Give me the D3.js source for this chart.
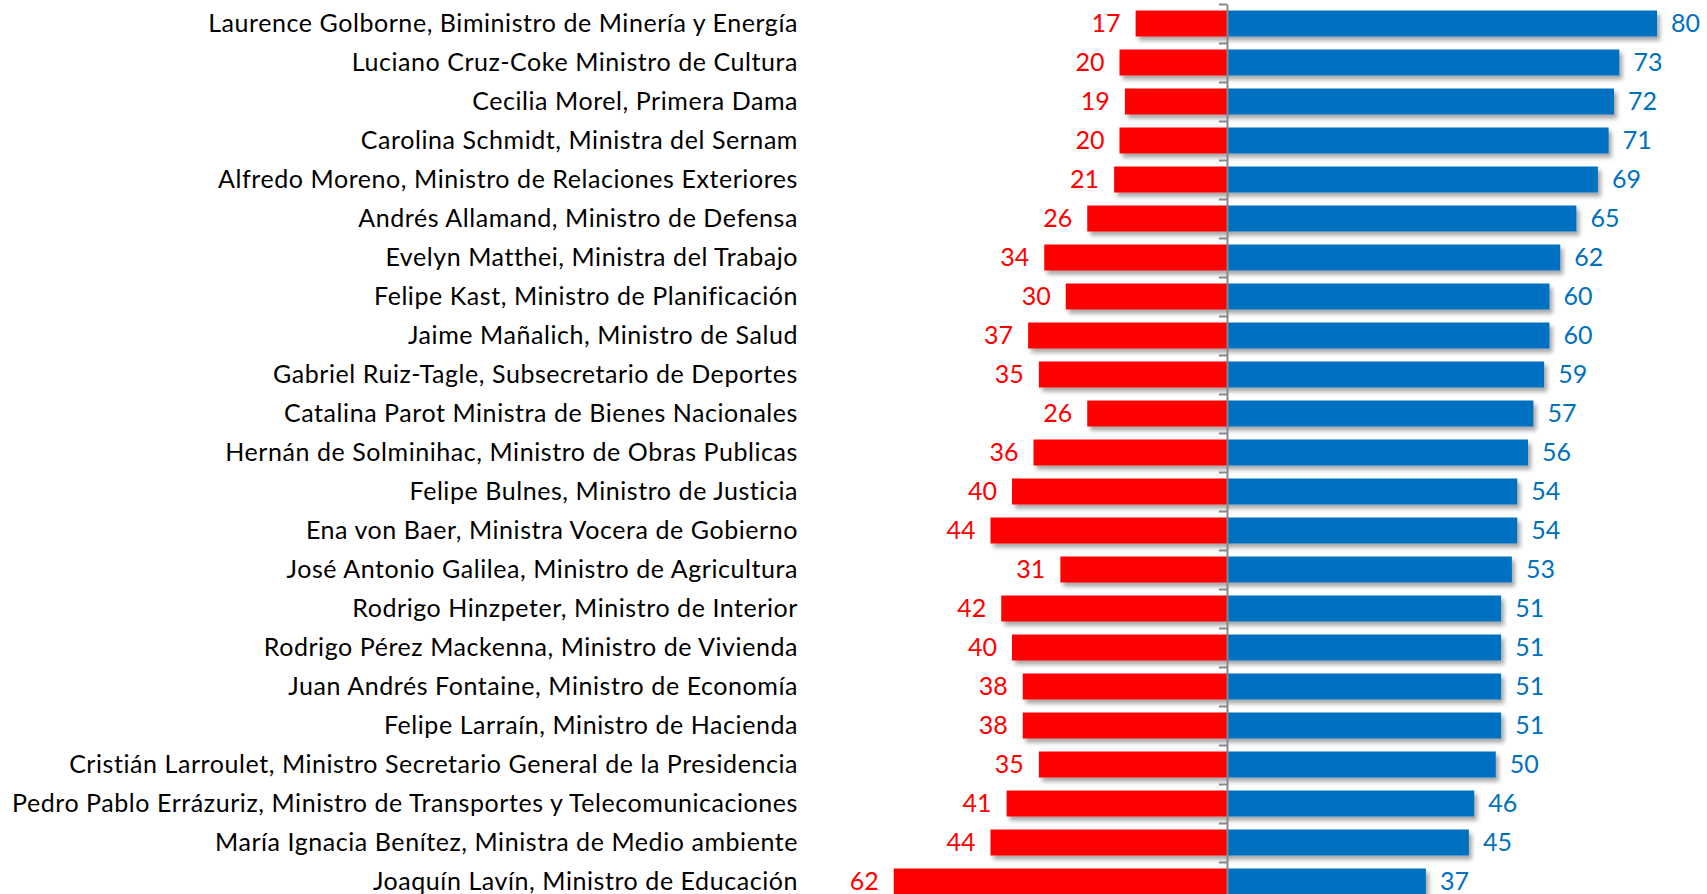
<!DOCTYPE html>
<html>
<head>
<meta charset="utf-8">
<script src="https://cdn.jsdelivr.net/npm/d3@7"></script>
<style>
  body { margin: 0; background: #fff; }
  svg text { font-family: Lato, "Open Sans", sans-serif; }
</style>
</head>
<body>
<div id="chart"></div>
<script>
var names = [
  "Laurence Golborne, Biministro de Minería y Energía",
  "Luciano Cruz-Coke Ministro de Cultura",
  "Cecilia Morel, Primera Dama",
  "Carolina Schmidt, Ministra del Sernam",
  "Alfredo Moreno, Ministro de Relaciones Exteriores",
  "Andrés Allamand, Ministro de Defensa",
  "Evelyn Matthei, Ministra del Trabajo",
  "Felipe Kast, Ministro de Planificación",
  "Jaime Mañalich, Ministro de Salud",
  "Gabriel Ruiz-Tagle, Subsecretario de Deportes",
  "Catalina Parot Ministra de Bienes Nacionales",
  "Hernán de Solminihac, Ministro de Obras Publicas",
  "Felipe Bulnes, Ministro de Justicia",
  "Ena von Baer, Ministra Vocera de Gobierno",
  "José Antonio Galilea, Ministro de Agricultura",
  "Rodrigo Hinzpeter, Ministro de Interior",
  "Rodrigo Pérez Mackenna, Ministro de Vivienda",
  "Juan Andrés Fontaine, Ministro de Economía",
  "Felipe Larraín, Ministro de Hacienda",
  "Cristián Larroulet, Ministro Secretario General de la Presidencia",
  "Pedro Pablo Errázuriz, Ministro de Transportes y Telecomunicaciones",
  "María Ignacia Benítez, Ministra de Medio ambiente",
  "Joaquín Lavín, Ministro de Educación"
];
var negativos = [17, 20, 19, 20, 21, 26, 34, 30, 37, 35, 26, 36, 40, 44, 31, 42, 40, 38, 38, 35, 41, 44, 62];
var positivos = [80, 73, 72, 71, 69, 65, 62, 60, 60, 59, 57, 56, 54, 54, 53, 51, 51, 51, 51, 50, 46, 45, 37];

var width = 1707, height = 894;
var labelRight = 798;

var svg = d3.select("#chart")
    .append("svg")
    .attr("width", width)
    .attr("height", height);

// drop shadow like the office chart
var defs = svg.append("defs");
var f = defs.append("filter").attr("id", "shadow")
    .attr("x", "-10%").attr("y", "-30%").attr("width", "120%").attr("height", "170%");
f.append("feDropShadow")
    .attr("dx", 3).attr("dy", 4)
    .attr("stdDeviation", 2)
    .attr("flood-color", "#000")
    .attr("flood-opacity", 0.35);

var x = d3.scaleLinear()
    .domain([-80, 80])
    .range([797, 1657]);

var y = d3.scaleBand()
    .domain(names)
    .range([4, 4 + 39 * names.length])
    .paddingInner(1 / 3)
    .paddingOuter(1 / 6);

var data = names.map(function(n, i) {
    return {name: n, neg: negativos[i], pos: positivos[i]};
});

// bars
var bars = svg.append("g").attr("filter", "url(#shadow)");
bars.selectAll(".neg")
    .data(data)
    .enter()
    .append("rect")
    .attr("class", "neg")
    .attr("x", function(d) { return x(-d.neg); })
    .attr("y", function(d) { return y(d.name); })
    .attr("width", function(d) { return x(0) - x(-d.neg); })
    .attr("height", y.bandwidth())
    .style("fill", "#FF0000");

bars.selectAll(".pos")
    .data(data)
    .enter()
    .append("rect")
    .attr("class", "pos")
    .attr("x", x(0))
    .attr("y", function(d) { return y(d.name); })
    .attr("width", function(d) { return x(d.pos) - x(0); })
    .attr("height", y.bandwidth())
    .style("fill", "#0070C0");

// axis at zero with ticks between categories
var yi = d3.scaleLinear().domain([0, names.length]).range(y.range());
var axis = svg.append("g")
    .attr("transform", "translate(" + x(0) + ",0)")
    .call(d3.axisLeft(yi).ticks(names.length).tickFormat("").tickSize(8).tickSizeOuter(0));
axis.selectAll("path, line").attr("stroke", "#888").attr("stroke-width", 2);

// category labels
var labels = svg.append("g").selectAll("text")
    .data(data)
    .enter()
    .append("text")
    .attr("x", labelRight)
    .attr("y", function(d) { return y(d.name) + y.bandwidth() / 2; })
    .attr("dy", "0.35em")
    .attr("text-anchor", "end")
    .style("font-size", "25px")
    .style("fill", "#000")
    .text(function(d) { return d.name; });

// widen a little so the longest label spans like the original (Calibri)
var longest = labels.nodes().reduce(function(a, b) {
    return a.getComputedTextLength() > b.getComputedTextLength() ? a : b;
});
var extra = (786 - longest.getComputedTextLength()) / longest.textContent.length;
if (extra > 0) labels.style("letter-spacing", Math.min(extra, 1) + "px");

// value labels
svg.append("g").selectAll("text")
    .data(data)
    .enter()
    .append("text")
    .attr("x", function(d) { return x(-d.neg) - 15; })
    .attr("y", function(d) { return y(d.name) + y.bandwidth() / 2; })
    .attr("dy", "0.35em")
    .attr("text-anchor", "end")
    .style("font-size", "25px")
    .style("fill", "#FF0000")
    .text(function(d) { return d.neg; });

svg.append("g").selectAll("text")
    .data(data)
    .enter()
    .append("text")
    .attr("x", function(d) { return x(d.pos) + 14; })
    .attr("y", function(d) { return y(d.name) + y.bandwidth() / 2; })
    .attr("dy", "0.35em")
    .style("font-size", "25px")
    .style("fill", "#0070C0")
    .text(function(d) { return d.pos; });
</script>
</body>
</html>
